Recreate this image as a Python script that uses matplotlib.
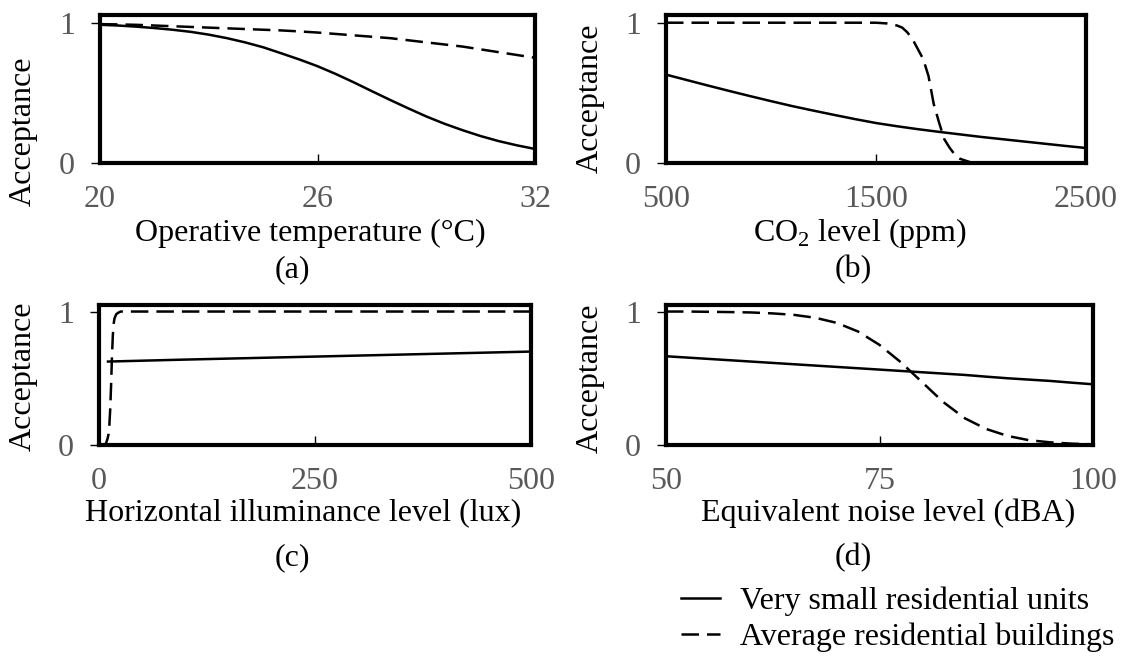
import matplotlib
matplotlib.use("Agg")
import matplotlib.pyplot as plt
from matplotlib.lines import Line2D

plt.rcParams['font.family'] = ['Liberation Serif', 'DejaVu Serif']
plt.rcParams['mathtext.fontset'] = 'custom'
plt.rcParams['mathtext.rm'] = 'Liberation Serif'
plt.rcParams['font.size'] = 23

# (a) operative temperature
temp_x = [20, 20.5, 21, 21.5, 22, 22.5, 23, 23.5, 24, 24.5, 25, 25.5, 26,
          26.5, 27, 27.5, 28, 28.5, 29, 29.5, 30, 30.5, 31, 31.5, 32]
temp_small = [0.985, 0.98, 0.972, 0.962, 0.95, 0.935, 0.915, 0.89, 0.86, 0.825, 0.782, 0.738, 0.69,
              0.635, 0.575, 0.512, 0.45, 0.39, 0.332, 0.28, 0.234, 0.192, 0.156, 0.126, 0.10]
temp_avg = [0.99, 0.988, 0.985, 0.98, 0.975, 0.97, 0.965, 0.96, 0.955, 0.95, 0.945, 0.938, 0.93,
            0.92, 0.91, 0.90, 0.89, 0.875, 0.86, 0.845, 0.83, 0.81, 0.79, 0.77, 0.75]

# (b) CO2 level
co2_x = [500, 600, 700, 800, 900, 1000, 1100, 1200, 1300, 1400, 1500,
         1600, 1700, 1800, 1900, 2000, 2100, 2200, 2300, 2400, 2500]
co2_small = [0.63, 0.591, 0.552, 0.514, 0.477, 0.441, 0.406, 0.374, 0.343, 0.313, 0.285,
             0.262, 0.241, 0.222, 0.204, 0.186, 0.17, 0.154, 0.138, 0.122, 0.107]
co2_avg_x = [500, 1000, 1500, 1550, 1600, 1625, 1650, 1675, 1700, 1725, 1750,
             1775, 1800, 1825, 1850, 1875, 1900, 1950, 2000, 2500]
co2_avg = [1.0, 1.0, 1.0, 0.995, 0.98, 0.965, 0.93, 0.88, 0.81, 0.74, 0.62,
           0.42, 0.29, 0.17, 0.11, 0.06, 0.03, 0.005, 0.0, 0.0]

# (c) horizontal illuminance
lux_small_x = [9, 100, 200, 300, 400, 500]
lux_small = [0.625, 0.64, 0.655, 0.67, 0.685, 0.70]
lux_avg_x = [0, 5, 8, 10, 11, 12, 13, 14, 15, 16, 17, 18, 20, 22, 25, 50, 500]
lux_avg = [0.0, 0.0, 0.01, 0.05, 0.08, 0.15, 0.27, 0.45, 0.66, 0.82, 0.91, 0.95, 0.98, 0.99, 1.0, 1.0, 1.0]

# (d) equivalent noise level
noise_x = [50, 52.5, 55, 57.5, 60, 62.5, 65, 67.5, 70, 72.5, 75,
           77.5, 80, 82.5, 85, 87.5, 90, 92.5, 95, 97.5, 100]
noise_small = [0.665, 0.655, 0.645, 0.635, 0.625, 0.615, 0.605, 0.595, 0.585, 0.575, 0.565,
               0.555, 0.545, 0.535, 0.525, 0.512, 0.50, 0.49, 0.48, 0.467, 0.455]
noise_avg = [1.0, 1.0, 0.998, 0.996, 0.993, 0.986, 0.975, 0.953, 0.915, 0.85, 0.75,
             0.62, 0.47, 0.32, 0.20, 0.12, 0.068, 0.036, 0.02, 0.01, 0.005]

labels = ['Very small residential units', 'Average residential buildings']

W, H = 1124, 657
fig = plt.figure(figsize=(W / 100, H / 100), dpi=100)


def px_axes(left, right, top, bottom):
    return fig.add_axes([left / W, 1 - bottom / H, (right - left) / W, (bottom - top) / H])


LW = 1.8
DASH = (7, 3.2)
GREY = '#595959'

panels = [
    # axes box, xlim, xticks, ylim top, series, xlabel, xlabel pos, ylabel pos, letter
    dict(box=(100, 535, 15, 163), xlim=(20, 32), xticks=[20, 26, 32], ytop=1.055,
         small=(temp_x, temp_small), avg=(temp_x, temp_avg),
         xlabel='Operative temperature (°C)', xl=(310, 233), yl=(23, 131), let=('(a)', 292, 270)),
    dict(box=(666, 1086, 15, 163), xlim=(500, 2500), xticks=[500, 1500, 2500], ytop=1.055,
         small=(co2_x, co2_small), avg=(co2_avg_x, co2_avg),
         xlabel=r'CO$_\mathregular{2}$ level (ppm)', xl=(860, 233), yl=(590, 98), let=('(b)', 853, 270)),
    dict(box=(99, 531, 305, 445), xlim=(0, 500), xticks=[0, 250, 500], ytop=1.049,
         small=(lux_small_x, lux_small), avg=(lux_avg_x, lux_avg),
         xlabel='Horizontal illuminance level (lux)', xl=(303, 513), yl=(23, 376), let=('(c)', 292, 558)),
    dict(box=(666, 1093, 305, 445), xlim=(50, 100), xticks=[50, 75, 100], ytop=1.049,
         small=(noise_x, noise_small), avg=(noise_x, noise_avg),
         xlabel='Equivalent noise level (dBA)', xl=(888, 513), yl=(590, 378), let=('(d)', 853, 558)),
]

for p in panels:
    ax = px_axes(*p['box'])
    ax.plot(*p['small'], color='black', lw=LW, solid_capstyle='butt')
    ax.plot(*p['avg'], color='black', lw=LW, dashes=DASH)
    ax.set_xlim(*p['xlim'])
    ax.set_ylim(0, p['ytop'])
    ax.set_xticks(p['xticks'])
    ax.set_yticks([0, 1])
    ax.set_xticklabels([str(t) for t in p['xticks']])
    ax.set_yticklabels(['0', '1'])
    ax.tick_params(axis='x', direction='in', length=6.5, width=1.0, pad=16,
                   labelsize=23, labelcolor=GREY)
    ax.tick_params(axis='y', direction='out', length=6.5, width=1.0, pad=11.5,
                   labelsize=23, labelcolor=GREY)
    for s in ax.spines.values():
        s.set_linewidth(3.0)
    fig.text(p['xl'][0] / W, 1 - p['xl'][1] / H, p['xlabel'], ha='center', va='center')
    fig.text(p['yl'][0] / W, 1 - p['yl'][1] / H, 'Acceptance', rotation=90,
             ha='center', va='center')
    fig.text(p['let'][1] / W, 1 - p['let'][2] / H, p['let'][0], ha='center', va='center')

handles = [Line2D([], [], color='black', lw=LW),
           Line2D([], [], color='black', lw=LW, dashes=DASH)]
fig.legend(handles, labels, loc='upper left', bbox_to_anchor=(681 / W, 1 - 587 / H),
           frameon=False, borderpad=0, borderaxespad=0, handlelength=1.22,
           handletextpad=0.63, labelspacing=0.18, fontsize=23)

fig.savefig('out.png', dpi=100)
